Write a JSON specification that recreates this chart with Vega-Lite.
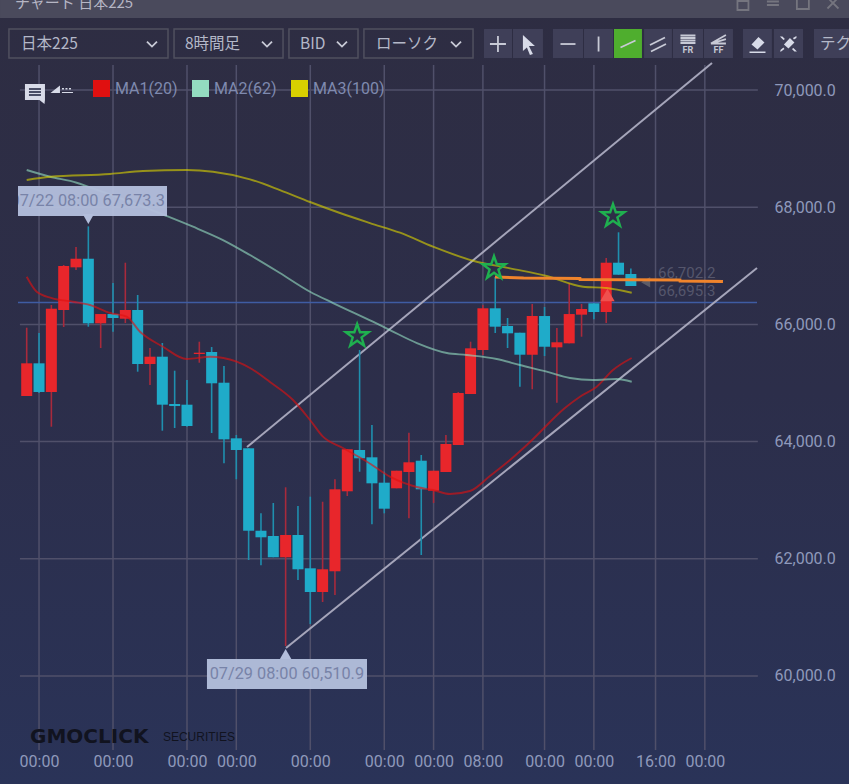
{
  "$schema": "https://vega.github.io/schema/vega-lite/v6.json",
  "width": 739,
  "height": 685,
  "autosize": {"type": "none"},
  "padding": {"left": 18, "top": 65, "right": 92, "bottom": 34},
  "background": "#2b2f4c",
  "config": {"view": {"stroke": null}, "font": "Roboto"},
  "datasets": {
    "candles": [
      {"i":0,"open":64778,"close":65336,"high":65944,"low":64778},
      {"i":1,"open":65336,"close":64846,"high":65853,"low":64829},
      {"i":2,"open":64846,"close":66268,"high":66331,"low":64254},
      {"i":3,"open":66246,"close":66997,"high":67014,"low":65956},
      {"i":4,"open":66974,"close":67121,"high":67321,"low":66928},
      {"i":5,"open":67121,"close":66019,"high":67673,"low":65961},
      {"i":6,"open":66019,"close":66177,"high":66177,"low":65597},
      {"i":7,"open":66177,"close":66109,"high":66706,"low":65875},
      {"i":8,"open":66097,"close":66246,"high":67053,"low":66024},
      {"i":9,"open":66246,"close":65324,"high":66502,"low":65193},
      {"i":10,"open":65324,"close":65449,"high":65597,"low":64966},
      {"i":11,"open":65449,"close":64630,"high":65683,"low":64186},
      {"i":12,"open":64642,"close":64607,"high":65210,"low":64232},
      {"i":13,"open":64630,"close":64266,"high":65051,"low":64254},
      {"i":14,"open":65495,"close":65517,"high":65705,"low":65346},
      {"i":15,"open":65529,"close":64995,"high":65614,"low":64147},
      {"i":16,"open":65005,"close":64039,"high":65290,"low":63630},
      {"i":17,"open":64056,"close":63857,"high":64113,"low":63357},
      {"i":18,"open":63886,"close":62479,"high":63886,"low":61979},
      {"i":19,"open":62479,"close":62367,"high":62776,"low":61889},
      {"i":20,"open":62389,"close":62026,"high":62952,"low":62026},
      {"i":21,"open":62026,"close":62406,"high":63220,"low":60511},
      {"i":22,"open":62406,"close":61821,"high":62901,"low":61638},
      {"i":23,"open":61838,"close":61433,"high":63060,"low":60887},
      {"i":24,"open":61433,"close":61821,"high":62974,"low":61263},
      {"i":25,"open":61787,"close":63186,"high":63357,"low":61382},
      {"i":26,"open":63152,"close":63869,"high":63869,"low":63072},
      {"i":27,"open":63857,"close":63715,"high":65563,"low":63486},
      {"i":28,"open":63732,"close":63288,"high":64283,"low":62589},
      {"i":29,"open":63299,"close":62855,"high":63486,"low":62776},
      {"i":30,"open":63203,"close":63503,"high":63503,"low":63203},
      {"i":31,"open":63481,"close":63647,"high":64152,"low":62691},
      {"i":32,"open":63674,"close":63186,"high":63771,"low":62065},
      {"i":33,"open":63162,"close":63503,"high":63503,"low":62952},
      {"i":34,"open":63481,"close":63959,"high":64113,"low":63481},
      {"i":35,"open":63942,"close":64829,"high":64846,"low":63942},
      {"i":36,"open":64812,"close":65592,"high":65705,"low":64812},
      {"i":37,"open":65563,"close":66275,"high":66331,"low":65478},
      {"i":38,"open":66275,"close":65961,"high":66809,"low":65853},
      {"i":39,"open":65973,"close":65848,"high":66109,"low":65597},
      {"i":40,"open":65858,"close":65483,"high":65858,"low":64937},
      {"i":41,"open":65483,"close":66143,"high":66348,"low":64893},
      {"i":42,"open":66143,"close":65619,"high":66297,"low":65461},
      {"i":43,"open":65609,"close":65695,"high":65939,"low":64664},
      {"i":44,"open":65677,"close":66177,"high":66701,"low":65677},
      {"i":45,"open":66166,"close":66263,"high":66348,"low":65790},
      {"i":46,"open":66360,"close":66212,"high":66360,"low":66087},
      {"i":47,"open":66212,"close":67053,"high":67133,"low":66024},
      {"i":48,"open":67053,"close":66848,"high":67572,"low":66848},
      {"i":49,"open":66860,"close":66655,"high":66955,"low":66655}
    ],
    "ma": [
      {"series":"MA1(20)","i":0,"p":66814},{"series":"MA1(20)","i":0.81,"p":66558},{"series":"MA1(20)","i":2.03,"p":66450},{"series":"MA1(20)","i":3.75,"p":66387},{"series":"MA1(20)","i":5.13,"p":66331},{"series":"MA1(20)","i":6.76,"p":66195},{"series":"MA1(20)","i":8.11,"p":66131},{"series":"MA1(20)","i":9.19,"p":65875},{"series":"MA1(20)","i":11.05,"p":65619},{"series":"MA1(20)","i":12.98,"p":65410},{"series":"MA1(20)","i":14.87,"p":65449},{"series":"MA1(20)","i":17.03,"p":65363},{"series":"MA1(20)","i":18.11,"p":65256},{"series":"MA1(20)","i":19.73,"p":65017},{"series":"MA1(20)","i":21.6,"p":64710},{"series":"MA1(20)","i":22.98,"p":64369},{"series":"MA1(20)","i":24.03,"p":64084},{"series":"MA1(20)","i":25.65,"p":63891},{"series":"MA1(20)","i":27.6,"p":63657},{"series":"MA1(20)","i":29.46,"p":63401},{"series":"MA1(20)","i":31.63,"p":63225},{"series":"MA1(20)","i":32.95,"p":63174},{"series":"MA1(20)","i":34.33,"p":63106},{"series":"MA1(20)","i":35.95,"p":63157},{"series":"MA1(20)","i":37.57,"p":63413},{"series":"MA1(20)","i":39.2,"p":63686},{"series":"MA1(20)","i":40.82,"p":63993},{"series":"MA1(20)","i":43.65,"p":64573},{"series":"MA1(20)","i":44.87,"p":64766},{"series":"MA1(20)","i":46.23,"p":64937},{"series":"MA1(20)","i":47.55,"p":65222},{"series":"MA1(20)","i":49.07,"p":65427},
      {"series":"MA2(62)","i":0,"p":68635},{"series":"MA2(62)","i":1.89,"p":68520},{"series":"MA2(62)","i":4.05,"p":68418},{"series":"MA2(62)","i":4.97,"p":68350},{"series":"MA2(62)","i":11.35,"p":67850},{"series":"MA2(62)","i":13.49,"p":67667},{"series":"MA2(62)","i":15.92,"p":67440},{"series":"MA2(62)","i":18.11,"p":67184},{"series":"MA2(62)","i":20.54,"p":66877},{"series":"MA2(62)","i":22.98,"p":66558},{"series":"MA2(62)","i":24.85,"p":66365},{"series":"MA2(62)","i":28.08,"p":66046},{"series":"MA2(62)","i":29.46,"p":65904},{"series":"MA2(62)","i":31.65,"p":65682},{"series":"MA2(62)","i":34.08,"p":65512},{"series":"MA2(62)","i":35.69,"p":65478},{"series":"MA2(62)","i":38.12,"p":65409},{"series":"MA2(62)","i":40,"p":65307},{"series":"MA2(62)","i":42.17,"p":65193},{"series":"MA2(62)","i":44.06,"p":65085},{"series":"MA2(62)","i":45.93,"p":65051},{"series":"MA2(62)","i":47.85,"p":65068},{"series":"MA2(62)","i":49.07,"p":65022},
      {"series":"MA3(100)","i":0,"p":68464},{"series":"MA3(100)","i":1.89,"p":68520},{"series":"MA3(100)","i":6.76,"p":68567},{"series":"MA3(100)","i":9.43,"p":68618},{"series":"MA3(100)","i":12.98,"p":68635},{"series":"MA3(100)","i":15.11,"p":68606},{"series":"MA3(100)","i":18.11,"p":68476},{"series":"MA3(100)","i":20.54,"p":68293},{"series":"MA3(100)","i":22.98,"p":68089},{"series":"MA3(100)","i":25.41,"p":67901},{"series":"MA3(100)","i":27.84,"p":67730},{"series":"MA3(100)","i":30.28,"p":67565},{"series":"MA3(100)","i":32.95,"p":67326},{"series":"MA3(100)","i":36.2,"p":67087},{"series":"MA3(100)","i":39.2,"p":66957},{"series":"MA3(100)","i":42.17,"p":66826},{"series":"MA3(100)","i":45.12,"p":66643},{"series":"MA3(100)","i":47.04,"p":66621},{"series":"MA3(100)","i":49.07,"p":66541}
    ],
    "gridX": [
      {"i":1,"p":58737,"p2":70427},{"i":7,"p":58737,"p2":70427},{"i":13,"p":58737,"p2":70427},{"i":17,"p":58737,"p2":70427},{"i":23,"p":58737,"p2":70427},{"i":29,"p":58737,"p2":70427},{"i":33,"p":58737,"p2":70427},{"i":37,"p":58737,"p2":70427},{"i":42,"p":58737,"p2":70427},{"i":46,"p":58737,"p2":70427},{"i":51,"p":58737,"p2":70427},{"i":55,"p":58737,"p2":70427}
    ],
    "gridY": [
      {"i":-0.55,"i2":59.3,"p":60000},{"i":-0.55,"i2":59.3,"p":62000},{"i":-0.55,"i2":59.3,"p":64000},{"i":-0.55,"i2":59.3,"p":66000},{"i":-0.55,"i2":59.3,"p":68000},{"i":-0.55,"i2":59.3,"p":70000}
    ],
    "channels": [
      {"line":"upper","i":17.87,"p":63908},{"line":"upper","i":55.58,"p":70461},
      {"line":"lower","i":21.03,"p":60478},{"line":"lower","i":59.23,"p":66962}
    ],
    "orange": [
      {"i":37.98,"p":66809},{"i":40.3,"p":66792},{"i":44.87,"p":66783},{"i":44.88,"p":66766},{"i":52.98,"p":66758},{"i":52.99,"p":66741},{"i":56.47,"p":66732}
    ],
    "stars": [{"i":26.8,"p":65802},{"i":37.9,"p":66962},{"i":47.55,"p":67850}],
    "buttons": [
      {"i":37.09,"i2":39.36,"p":71041,"p2":70546,"state":"off"},{"i":39.44,"i2":41.87,"p":71041,"p2":70546,"state":"off"},{"i":42.68,"i2":45.12,"p":71041,"p2":70546,"state":"off"},{"i":45.2,"i2":47.55,"p":71041,"p2":70546,"state":"off"},{"i":47.63,"i2":49.9,"p":71041,"p2":70546,"state":"on"},{"i":50.07,"i2":52.33,"p":71041,"p2":70546,"state":"off"},{"i":52.41,"i2":54.85,"p":71041,"p2":70546,"state":"off"},{"i":54.93,"i2":57.28,"p":71041,"p2":70546,"state":"off"},{"i":58.09,"i2":60.44,"p":71041,"p2":70546,"state":"off"},{"i":60.6,"i2":62.96,"p":71041,"p2":70546,"state":"off"},{"i":63.85,"i2":66.69,"p":71041,"p2":70546,"state":"off"}
    ],
    "dropdowns": [
      {"i":-1.44,"i2":11.46,"p":71041,"p2":70546},{"i":11.95,"i2":20.79,"p":71041,"p2":70546},{"i":21.27,"i2":26.87,"p":71041,"p2":70546},{"i":27.35,"i2":36.2,"p":71041,"p2":70546}
    ],
    "toolbarText": [
      {"i":-0.46,"p":70785,"label":"日本225"},{"i":12.84,"p":70785,"label":"8時間足"},{"i":22.17,"p":70785,"label":"BID"},{"i":28.33,"p":70785,"label":"ローソク"},{"i":64.34,"p":70785,"label":"テク"}
    ],
    "strokeIcons": [
      {"i":10.16,"p":70785,"icon":"chevron","zone":"tool"},{"i":19.49,"p":70785,"icon":"chevron","zone":"tool"},{"i":25.57,"p":70785,"icon":"chevron","zone":"tool"},{"i":34.82,"p":70785,"icon":"chevron","zone":"tool"},
      {"i":38.22,"p":70785,"icon":"plus","zone":"tool"},{"i":43.9,"p":70785,"icon":"hline","zone":"tool"},{"i":46.38,"p":70785,"icon":"vline","zone":"tool"},{"i":48.77,"p":70785,"icon":"slash","zone":"tool"},{"i":51.2,"p":70785,"icon":"double","zone":"tool"},{"i":53.63,"p":70785,"icon":"fr","zone":"tool"},{"i":56.1,"p":70785,"icon":"ff","zone":"tool"},
      {"i":58.09,"p":71485,"icon":"lock","zone":"title"},{"i":60.52,"p":71485,"icon":"bars","zone":"title"},{"i":62.95,"p":71485,"icon":"box","zone":"title"},{"i":65.39,"p":71485,"icon":"cross","zone":"title"},
      {"i":0.67,"p":69949,"icon":"commentlines","zone":"dark"}
    ],
    "fillIcons": [
      {"i":40.65,"p":70785,"icon":"arrow"},{"i":59.27,"p":70785,"icon":"eraser"},{"i":61.78,"p":70785,"icon":"eraserx"},{"i":0.67,"p":69949,"icon":"comment"},{"i":2.86,"p":70000,"icon":"drawn"}
    ],
    "small": [
      {"i":53.63,"p":70683,"label":"FR"},{"i":56.1,"p":70683,"label":"FF"}
    ]
  },
  "encoding": {
    "x": {
      "field": "i",
      "type": "quantitative",
      "title": null,
      "scale": {"domain": [-0.7056, 59.23], "nice": false, "zero": false, "padding": 0},
      "axis": {
        "values": [1, 7, 13, 17, 23, 29, 33, 37, 42, 46, 51, 55],
        "labelExpr": "datum.value == 37 ? '08:00' : datum.value == 51 ? '16:00' : '00:00'",
        "grid": false, "ticks": false, "domain": false, "zindex": 1,
        "labelFont": "Roboto", "labelFontSize": 16, "labelColor": "#8f99bb", "labelPadding": 3, "labelFlush": false, "labelOverlap": false
      }
    },
    "y": {
      "field": "p",
      "type": "quantitative",
      "title": null,
      "scale": {"domain": [58737, 70427], "nice": false, "zero": false},
      "axis": {
        "orient": "right",
        "values": [60000, 62000, 64000, 66000, 68000, 70000],
        "format": ",.1f",
        "grid": false, "ticks": false, "domain": false, "zindex": 1,
        "labelFont": "Roboto", "labelFontSize": 16, "labelColor": "#8f99bb", "labelPadding": 17, "labelAlign": "left"
      }
    }
  },
  "layer": [
    {
      "data": {"values": [{"i": -2.165, "i2": 66.69, "p": 71536, "p2": 58157}]},
      "mark": {"type": "rect", "color": {"x1": 0, "y1": 0, "x2": 0, "y2": 1, "gradient": "linear", "stops": [{"offset": 0, "color": "#2e2d42"}, {"offset": 0.5, "color": "#2c2e4a"}, {"offset": 1, "color": "#2a3358"}]}},
      "encoding": {"x2": {"field": "i2"}, "y2": {"field": "p2"}}
    },
    {
      "data": {"values": [{"i": -2.165, "i2": 66.69, "p": 71536, "p2": 71229}]},
      "mark": {"type": "rect", "color": "#4a4a5c"},
      "encoding": {"x2": {"field": "i2"}, "y2": {"field": "p2"}}
    },
    {
      "data": {"name": "gridX"},
      "mark": {"type": "rule", "color": "#50506a", "strokeWidth": 1.5},
      "encoding": {"y2": {"field": "p2"}}
    },
    {
      "data": {"name": "gridY"},
      "mark": {"type": "rule", "color": "#50506a", "strokeWidth": 1.5},
      "encoding": {"x2": {"field": "i2"}}
    },
    {
      "data": {"values": [{"i": -0.7056, "i2": 59.23, "p": 66374}]},
      "mark": {"type": "rule", "color": "#3f5ca3", "strokeWidth": 1.5},
      "encoding": {"x2": {"field": "i2"}}
    },
    {
      "data": {"name": "channels"},
      "mark": {"type": "line", "color": "#a5a5ba", "strokeWidth": 2},
      "encoding": {"detail": {"field": "line"}}
    },
    {
      "data": {"name": "candles"},
      "mark": {"type": "rule", "strokeWidth": 1.6},
      "encoding": {
        "y": {"field": "low", "type": "quantitative", "title": null, "scale": {"domain": [58737, 70427], "nice": false, "zero": false}},
        "y2": {"field": "high"},
        "color": {"condition": {"test": "datum.close >= datum.open", "value": "#a82a3c"}, "value": "#1f8fae"}
      }
    },
    {
      "data": {"name": "candles"},
      "mark": {"type": "bar", "width": 11},
      "encoding": {
        "y": {"field": "open", "type": "quantitative", "title": null, "scale": {"domain": [58737, 70427], "nice": false, "zero": false}},
        "y2": {"field": "close"},
        "color": {"condition": {"test": "datum.close >= datum.open", "value": "#e8262b"}, "value": "#1fabc9"}
      }
    },
    {
      "data": {"name": "ma"},
      "mark": {"type": "square", "filled": true, "size": 0},
      "encoding": {
        "color": {
          "field": "series", "type": "nominal",
          "scale": {"domain": ["MA1(20)", "MA2(62)", "MA3(100)"], "range": ["#e01010", "#93dcc0", "#d8d000"]},
          "legend": {
            "title": null, "orient": "none", "legendX": 75, "legendY": 15, "direction": "horizontal", "columns": 3,
            "symbolType": "square", "symbolSize": 289, "symbolOpacity": 1, "symbolStrokeWidth": 0,
            "labelFont": "Roboto", "labelFontSize": 16, "labelColor": "#7f8aaf", "labelOffset": 5, "columnPadding": 14, "padding": 0
          }
        }
      }
    },
    {
      "data": {"name": "ma"},
      "mark": {"type": "line", "interpolate": "monotone", "strokeWidth": 1.9, "opacity": 0.62},
      "encoding": {
        "color": {
          "field": "series", "type": "nominal",
          "scale": {"domain": ["MA1(20)", "MA2(62)", "MA3(100)"], "range": ["#e01010", "#93dcc0", "#d8d000"]},
          "legend": {
            "title": null, "orient": "none", "legendX": 75, "legendY": 15, "direction": "horizontal", "columns": 3,
            "symbolType": "square", "symbolSize": 289, "symbolOpacity": 1, "symbolStrokeWidth": 0,
            "labelFont": "Roboto", "labelFontSize": 16, "labelColor": "#7f8aaf", "labelOffset": 5, "columnPadding": 14, "padding": 0
          }
        }
      }
    },
    {
      "data": {"values": [{"i": 47.1, "p": 66502}]},
      "mark": {"type": "point", "shape": "triangle-up", "filled": true, "size": 210, "color": "#f0504e", "opacity": 1}
    },
    {
      "data": {"values": [{"i": 50.2, "p": 66719}]},
      "mark": {"type": "point", "shape": "triangle-left", "filled": true, "size": 110, "color": "#5c5c68", "opacity": 1}
    },
    {
      "data": {"values": [{"i": 51.2, "p": 66877, "label": "66,702.2"}, {"i": 51.2, "p": 66570, "label": "66,695.3"}]},
      "mark": {"type": "text", "align": "left", "baseline": "middle", "fontSize": 15, "font": "Roboto", "color": "#55566c"},
      "encoding": {"text": {"field": "label"}}
    },
    {
      "data": {"name": "orange"},
      "mark": {"type": "line", "color": "#f0842c", "strokeWidth": 3}
    },
    {
      "data": {"name": "stars"},
      "mark": {"type": "point", "shape": "M0,-0.6L0.14,-0.19L0.57,-0.19L0.22,0.07L0.35,0.49L0,0.24L-0.35,0.49L-0.22,0.07L-0.57,-0.19L-0.14,-0.19Z", "size": 1600, "filled": false, "color": "#1fb04f", "strokeWidth": 2.4, "opacity": 1}
    },
    {
      "data": {"values": [{"i": -0.7056, "i2": 11.38, "p": 68362, "p2": 67850}, {"i": 14.62, "i2": 27.6, "p": 60290, "p2": 59778}]},
      "mark": {"type": "rect", "color": "#b3bedc", "opacity": 0.96},
      "encoding": {"x2": {"field": "i2"}, "y2": {"field": "p2"}}
    },
    {
      "data": {"values": [{"i": 5, "p": 67799}]},
      "mark": {"type": "point", "shape": "triangle-down", "filled": true, "size": 130, "color": "#b3bedc", "opacity": 1}
    },
    {
      "data": {"values": [{"i": 21, "p": 60375}]},
      "mark": {"type": "point", "shape": "triangle-up", "filled": true, "size": 130, "color": "#b3bedc", "opacity": 1}
    },
    {
      "data": {"values": [{"i": 4.95, "p": 68110, "label": "07/22 08:00 67,673.3"}, {"i": 21.1, "p": 60034, "label": "07/29 08:00 60,510.9"}]},
      "mark": {"type": "text", "clip": true, "baseline": "middle", "fontSize": 16.3, "font": "Roboto", "color": "#7883a8"},
      "encoding": {"text": {"field": "label"}}
    },
    {
      "data": {"name": "dropdowns"},
      "mark": {"type": "rect", "filled": false, "stroke": "#50505f", "strokeWidth": 1.5},
      "encoding": {"x2": {"field": "i2"}, "y2": {"field": "p2"}}
    },
    {
      "data": {"name": "buttons"},
      "mark": {"type": "rect"},
      "encoding": {
        "x2": {"field": "i2"}, "y2": {"field": "p2"},
        "color": {"condition": {"test": "datum.state == 'on'", "value": "#4fae2e"}, "value": "#3f3f58"}
      }
    },
    {
      "data": {"name": "toolbarText"},
      "mark": {"type": "text", "align": "left", "baseline": "middle", "fontSize": 15.5, "font": "Noto Sans CJK JP", "color": "#b4b8c8"},
      "encoding": {"text": {"field": "label"}}
    },
    {
      "data": {"values": [{"i": -0.95, "p": 71485, "label": "チャート 日本225"}]},
      "mark": {"type": "text", "align": "left", "baseline": "middle", "fontSize": 15, "font": "Noto Sans CJK JP", "color": "#b6b6c4"},
      "encoding": {"text": {"field": "label"}}
    },
    {
      "data": {"name": "small"},
      "mark": {"type": "text", "baseline": "middle", "fontSize": 9, "fontWeight": "bold", "font": "Roboto", "color": "#c4c6d2"},
      "encoding": {"text": {"field": "label"}}
    },
    {
      "data": {"name": "fillIcons"},
      "mark": {"type": "point", "filled": true, "size": 400, "opacity": 1, "strokeWidth": 0, "color": "#d8dbe8"},
      "encoding": {
        "shape": {
          "field": "icon", "type": "nominal", "legend": null,
          "scale": {
            "domain": ["arrow", "eraser", "eraserx", "comment", "drawn", "chevron", "plus", "hline", "vline", "slash", "double", "fr", "ff", "lock", "bars", "box", "cross", "commentlines"],
            "range": [
              "M-0.5,-0.9L0.7,0.2L0.1,0.2L0.5,1L0.2,1.1L-0.1,0.35L-0.5,0.7Z",
              "M-0.6,0.05L0.1,-0.7L0.7,-0.15L0,0.55ZM-0.8,0.75L0.8,0.75L0.8,0.9L-0.8,0.9Z",
              "M-0.45,0.05L0.15,-0.6L0.6,-0.15L0,0.45ZM-0.85,-0.75L-0.6,-0.75L-0.35,-0.5L-0.5,-0.4ZM0.85,0.75L0.6,0.75L0.35,0.5L0.5,0.4ZM-0.8,0.8L-0.8,0.6L-0.5,0.35L-0.4,0.5ZM0.8,-0.8L0.8,-0.6L0.55,-0.45L0.45,-0.6Z",
              "M-1,-0.9L1,-0.9L1,0.7L0.95,1.1L0.45,0.7L-1,0.7Z",
              "M-1.15,0.3L-0.2,-0.45L-0.2,0.3ZM0,-0.2L0.2,-0.2L0.2,-0.05L0,-0.05ZM0.35,-0.2L0.55,-0.2L0.55,-0.05L0.35,-0.05ZM0.7,-0.2L0.9,-0.2L0.9,-0.05L0.7,-0.05ZM0,0.2L1.1,0.2L1.1,0.3L0,0.3Z",
              "M-0.5,-0.25L0,0.25L0.5,-0.25",
              "M-0.8,0L0.8,0M0,-0.8L0,0.8",
              "M-0.75,0L0.75,0",
              "M0,-0.75L0,0.75",
              "M-0.75,0.35L0.75,-0.35",
              "M-0.8,0.1L0.7,-0.65M-0.7,0.75L0.8,0",
              "M-0.75,-0.85L0.75,-0.85M-0.75,-0.6L0.75,-0.6M-0.75,-0.35L0.75,-0.35M-0.75,-0.1L0.75,-0.1",
              "M-0.75,-0.05L0.75,-0.9M-0.75,-0.05L0.75,-0.5M-0.75,-0.05L0.75,-0.05",
              "M-0.55,-0.2L0.55,-0.2L0.55,0.7L-0.55,0.7ZM-0.3,-0.2L-0.3,-0.7L0.1,-0.7L0.1,-0.2",
              "M-0.6,-0.15L0.6,-0.15M-0.6,0.2L0.6,0.2",
              "M-0.6,-0.6L0.6,-0.6L0.6,0.6L-0.6,0.6Z",
              "M-0.55,-0.55L0.55,0.55M-0.55,0.55L0.55,-0.55",
              "M-0.6,-0.4L0.6,-0.4M-0.6,-0.1L0.6,-0.1M-0.6,0.2L0.6,0.2"
            ]
          }
        }
      }
    },
    {
      "data": {"name": "strokeIcons"},
      "mark": {"type": "point", "filled": false, "size": 400, "opacity": 1, "strokeWidth": 1.8},
      "encoding": {
        "color": {"condition": [{"test": "datum.zone == 'title'", "value": "#75757f"}, {"test": "datum.zone == 'dark'", "value": "#4a4e66"}], "value": "#c8cad6"},
        "shape": {
          "field": "icon", "type": "nominal", "legend": null,
          "scale": {
            "domain": ["arrow", "eraser", "eraserx", "comment", "drawn", "chevron", "plus", "hline", "vline", "slash", "double", "fr", "ff", "lock", "bars", "box", "cross", "commentlines"],
            "range": [
              "M-0.5,-0.9L0.7,0.2L0.1,0.2L0.5,1L0.2,1.1L-0.1,0.35L-0.5,0.7Z",
              "M-0.6,0.05L0.1,-0.7L0.7,-0.15L0,0.55ZM-0.8,0.75L0.8,0.75L0.8,0.9L-0.8,0.9Z",
              "M-0.45,0.05L0.15,-0.6L0.6,-0.15L0,0.45ZM-0.85,-0.75L-0.6,-0.75L-0.35,-0.5L-0.5,-0.4ZM0.85,0.75L0.6,0.75L0.35,0.5L0.5,0.4ZM-0.8,0.8L-0.8,0.6L-0.5,0.35L-0.4,0.5ZM0.8,-0.8L0.8,-0.6L0.55,-0.45L0.45,-0.6Z",
              "M-1,-0.9L1,-0.9L1,0.7L0.95,1.1L0.45,0.7L-1,0.7Z",
              "M-1.15,0.3L-0.2,-0.45L-0.2,0.3ZM0,-0.2L0.2,-0.2L0.2,-0.05L0,-0.05ZM0.35,-0.2L0.55,-0.2L0.55,-0.05L0.35,-0.05ZM0.7,-0.2L0.9,-0.2L0.9,-0.05L0.7,-0.05ZM0,0.2L1.1,0.2L1.1,0.3L0,0.3Z",
              "M-0.5,-0.25L0,0.25L0.5,-0.25",
              "M-0.8,0L0.8,0M0,-0.8L0,0.8",
              "M-0.75,0L0.75,0",
              "M0,-0.75L0,0.75",
              "M-0.75,0.35L0.75,-0.35",
              "M-0.8,0.1L0.7,-0.65M-0.7,0.75L0.8,0",
              "M-0.75,-0.85L0.75,-0.85M-0.75,-0.6L0.75,-0.6M-0.75,-0.35L0.75,-0.35M-0.75,-0.1L0.75,-0.1",
              "M-0.75,-0.05L0.75,-0.9M-0.75,-0.05L0.75,-0.5M-0.75,-0.05L0.75,-0.05",
              "M-0.55,-0.2L0.55,-0.2L0.55,0.7L-0.55,0.7ZM-0.3,-0.2L-0.3,-0.7L0.1,-0.7L0.1,-0.2",
              "M-0.6,-0.15L0.6,-0.15M-0.6,0.2L0.6,0.2",
              "M-0.6,-0.6L0.6,-0.6L0.6,0.6L-0.6,0.6Z",
              "M-0.55,-0.55L0.55,0.55M-0.55,0.55L0.55,-0.55",
              "M-0.6,-0.4L0.6,-0.4M-0.6,-0.1L0.6,-0.1M-0.6,0.2L0.6,0.2"
            ]
          }
        }
      }
    },
    {
      "data": {"values": [{"i": 0.27, "p": 58959, "label": "GMOCLICK"}]},
      "mark": {"type": "text", "align": "left", "baseline": "middle", "fontSize": 20, "fontWeight": "bold", "font": "DejaVu Sans", "color": "#11131f"},
      "encoding": {"text": {"field": "label"}}
    },
    {
      "data": {"values": [{"i": 11.05, "p": 58959, "label": "SECURITIES"}]},
      "mark": {"type": "text", "align": "left", "baseline": "middle", "fontSize": 12, "font": "Liberation Sans", "color": "#11131f"},
      "encoding": {"text": {"field": "label"}}
    }
  ]
}
